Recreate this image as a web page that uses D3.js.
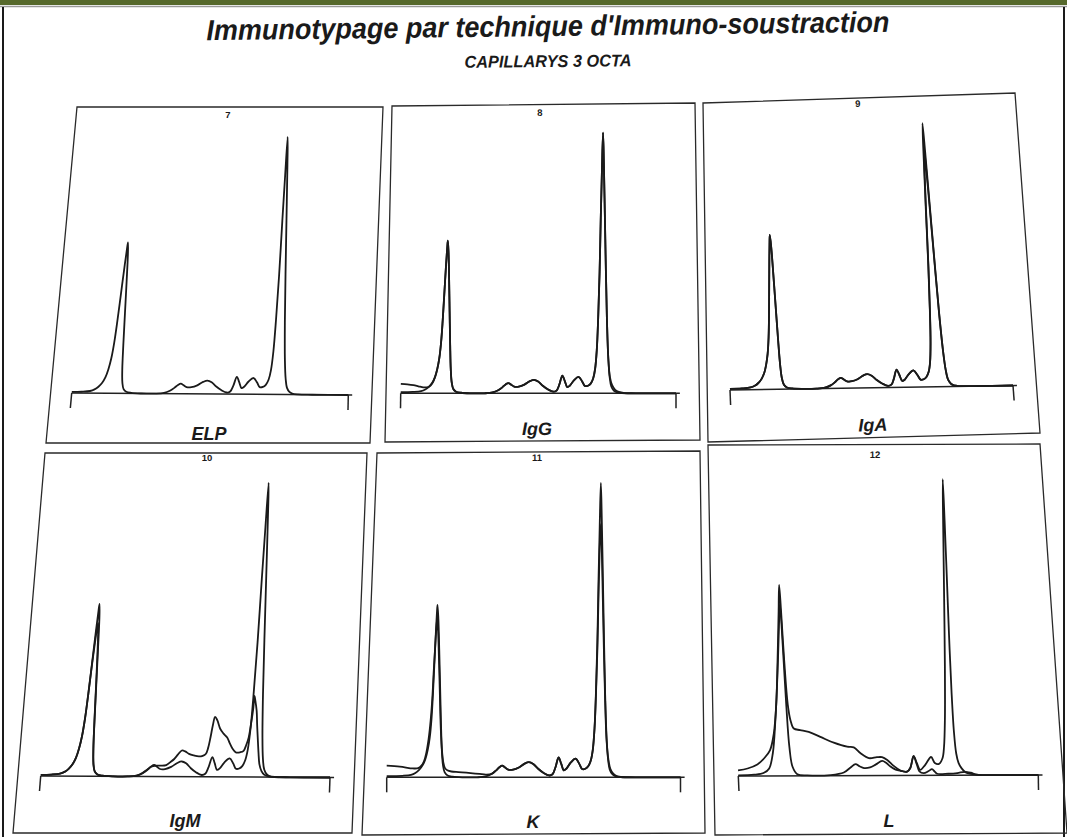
<!DOCTYPE html>
<html>
<head>
<meta charset="utf-8">
<script src="https://cdn.jsdelivr.net/npm/d3@7"></script>
<style>
  html, body { margin: 0; padding: 0; background: #fff; }
  svg { display: block; }
  .frame { fill: none; stroke: #2a2a2a; stroke-width: 1.3; }
  .trace { fill: none; stroke: #1a1a1a; stroke-width: 1.8; stroke-linejoin: round; }
  .axis-line { fill: none; stroke: #222; stroke-width: 1.5; }
  text { font-family: "Liberation Sans", Arial, sans-serif; font-weight: bold; fill: #1a1a1a; }
</style>
</head>
<body>
<div id="container"></div>
<script>
// Page size
const WIDTH = 1067;
const HEIGHT = 837;

// Texts
const TITLE = "Immunotypage par technique d'Immuno-soustraction";
const SUBTITLE = 'CAPILLARYS 3 OCTA';
const PANEL_NAMES = ['ELP', 'IgG', 'IgA', 'IgM', 'K', 'L'];
const PANEL_NUMBERS = ['7', '8', '9', '10', '11', '12'];

// Traces: [migration, relative height]
const ELP = [
  [-1.5,0.4],[4,0.5],[7,0.8],[8.5,1.4],[9.8,2.4],[11,3.9],[12,6],[12.8,9],[13.5,13],[14.1,19],[14.6,27],[15.1,37],
  [15.6,47],[16.0,54],[16.2,56.5],[16.5,52],[16.8,42],[17.1,30],[17.4,18],[17.7,9],[18.1,4],[18.7,1.6],[19.7,0.6],
  [21.5,0.2],[25,0],[30,0],[33,0.3],[35,1.1],[36.5,2.2],[37.7,3.3],[38.7,3.8],[39.7,3.2],[40.8,2.5],[42.5,2.5],
  [44.5,3.2],[46.5,4.5],[48,5.0],[49.5,4.4],[51.2,2.8],[53,1.5],[55,0.6],[56.2,1.0],[57.2,3.2],[58.3,6.5],[59.2,4.5],
  [60.1,2.3],[61,2.8],[62.5,4.8],[64.2,6.1],[65.5,4.4],[66.5,2.7],[67.6,2.8],[68.6,3.6],[69.5,5.5],[70.2,9],[70.8,16],
  [71.3,28],[71.8,45],[72.2,65],[72.6,82],[73.0,96.5],[73.3,86],[73.7,66],[74.1,45],[74.5,27],[75.0,13],[75.5,6],
  [76.1,2.5],[77,1],[78,0.4],[80,0.1],[85,0],[101,0]
];

const IGG = [
  [-1.5,3.5],[2,3.3],[4.2,3.0],[6,2.6],[7.8,2.2],[9,2.2],[10,2.5],[11,3.6],[12,6],[12.8,9],[13.5,13],[14.1,19],
  [14.6,27],[15.1,37],[15.6,47],[16.0,54],[16.2,56.5],[16.5,52],[16.8,42],[17.1,30],[17.4,18],[17.7,9],[18.1,4],
  [18.7,1.6],[19.7,0.6],[21.5,0.2],[25,0],[30,0],[33,0.3],[35,1.1],[36.5,2.2],[37.7,3.3],[38.7,3.8],[39.7,3.2],
  [40.8,2.5],[42.5,2.5],[44.5,3.2],[46.5,4.5],[48,5.0],[49.5,4.4],[51.2,2.8],[53,1.5],[55,0.6],[56.2,1.0],[57.2,3.2],
  [58.3,6.5],[59.2,4.5],[60.1,2.3],[61,2.8],[62.5,4.8],[64.2,6.1],[65.5,4.4],[66.5,2.7],[67.6,2.8],[68.6,3.6],
  [69.5,5.5],[70.2,9],[70.8,16],[71.3,28],[71.8,45],[72.2,65],[72.6,82],[73.0,96.5],[73.3,86],[73.7,66],[74.1,45],
  [74.5,27],[75.0,13],[75.6,6],[76.4,3],[77.5,1.3],[78.8,0.5],[81,0.1],[85,0],[101,0]
];

const IGA = [
  [-1.5,0.4],[4,0.5],[7,0.8],[8.5,1.4],[9.8,2.4],[11,3.9],[12,6],[12.8,9],[13.5,13],[14.1,19],[14.6,27],[15.1,37],
  [15.6,47],[16.0,54],[16.2,56.5],[16.5,52],[16.8,42],[17.1,30],[17.4,18],[17.7,9],[18.1,4],[18.7,1.6],[19.7,0.6],
  [21.5,0.2],[25,0],[30,0],[33,0.3],[35,1.1],[36.5,2.2],[37.7,3.3],[38.7,3.8],[39.7,3.2],[40.8,2.5],[42.5,2.5],
  [44.5,3.2],[46.5,4.5],[48,5.0],[49.5,4.4],[51.2,2.8],[53,1.5],[55,0.6],[56.2,1.0],[57.2,3.2],[58.3,6.5],[59.2,4.5],
  [60.1,2.3],[61,2.8],[62.5,4.8],[64.2,6.1],[65.5,4.4],[66.5,2.7],[67.6,2.8],[68.6,3.6],[69.5,5.5],[70.2,9],[70.8,16],
  [71.3,27],[71.8,44],[72.2,62],[72.6,78],[73.0,87.5],[73.3,79],[73.7,62],[74.1,43],[74.5,26],[75.0,13],[75.5,6],
  [76.1,2.5],[77,1],[78,0.4],[80,0.1],[85,0],[101,0]
];

const IGM = [
  [-1.5,0.4],[4,0.5],[7,0.8],[8.5,1.4],[9.8,2.4],[11,3.9],[12,6],[12.8,9],[13.5,13],[14.1,19],[14.6,27],[15.1,36],
  [15.6,44],[16.0,49],[16.2,50.2],[16.5,46],[16.8,38],[17.1,28],[17.4,17],[17.7,9],[18.1,4],[18.7,1.6],[19.7,0.6],
  [21.5,0.2],[25,0],[30,0],[33,0.3],[35,1.2],[36.5,2.3],[37.7,3.2],[39.3,3.6],[41,3.6],[42.8,3.8],[44.2,4.8],
  [45.4,5.8],[46.6,7.3],[47.8,8.6],[49,8.3],[50.3,7.5],[52,7.0],[53.7,6.7],[55,6.9],[56,7.5],[56.7,9.5],[57.3,12.9],
  [57.9,17],[58.5,19.7],[59.3,18.6],[60.5,15.7],[61.7,14.2],[63.0,12.9],[63.9,11.2],[64.8,9.6],[65.6,8.6],[66.4,8.0],
  [67.6,8.1],[68.8,8.6],[69.6,10.5],[70.3,12.9],[70.9,17.5],[71.4,22.5],[71.6,26.6],[72.0,25],[72.6,21.7],[73.0,17],
  [73.4,12.9],[73.9,8],[74.4,4.2],[75.2,2],[76.1,0.9],[78,0.2],[85,0],[101,0]
];

const KAPPA = [
  [-1.5,3.8],[3.1,3.5],[7.7,2.9],[9.5,3.0],[10.6,3.8],[11.5,5.2],[12.3,8],[13.1,12.5],[13.8,18.5],[14.4,26],[14.9,35],
  [15.4,43],[15.8,49],[16.1,51.9],[16.4,48],[16.7,39],[17.0,28],[17.3,17],[17.7,9.5],[18.2,5],[18.8,3],[19.6,2.3],
  [21,1.9],[23.5,1.7],[26.2,1.5],[28.5,1.3],[30.8,1.1],[33,0.9],[35,1.1],[36.5,2.2],[37.7,3.3],[38.7,3.8],[39.7,3.2],
  [40.8,2.5],[42.5,2.5],[44.5,3.2],[46.5,4.5],[48,5.0],[49.5,4.4],[51.2,2.8],[53,1.5],[55,0.6],[56.2,1.0],[57.2,3.2],
  [58.3,6.5],[59.2,4.5],[60.1,2.3],[61,2.8],[62.5,4.8],[64.2,6.1],[65.5,4.4],[66.5,2.7],[67.6,2.8],[68.6,3.6],
  [69.5,5.5],[70.2,9],[70.8,16],[71.3,27],[71.8,42],[72.2,60],[72.6,75],[73.0,83],[73.3,76],[73.7,58],[74.1,40],
  [74.5,25],[75.0,12],[75.6,6],[76.3,2.8],[77.3,1.2],[78.5,0.4],[80,0.1],[85,0],[101,0]
];

const LAMBDA_A = [
  [0,1.8],[3.2,2.4],[6.5,3.7],[8.8,5.6],[10.9,8.2],[12.4,13.6],[13.6,23],[14.6,37],[15.6,53],[16.1,61.4],[16.4,53],
  [16.8,37],[17.4,23],[18.1,17.9],[19.1,15.2],[21.2,14.7],[24.0,14.1],[27.8,12.5],[32.2,10.6],[36.6,9.3],[38.8,9.1],
  [41.0,7.2],[43.7,5.6],[46.4,5.9],[48.1,5.9],[49.8,5.0],[51.9,3.1],[54.1,1.6],[56.3,1.2],[57.4,2.4],[58.6,6.3],
  [59.6,4.0],[60.7,1.8],[62.4,3.4],[64.4,5.9],[65.6,4.0],[67.0,3.7],[68.2,5.5],[68.8,9.2],[69.3,18],[69.7,35],
  [70.0,60],[70.2,80],[70.4,95.2],[70.7,82],[71.0,64],[71.3,45],[71.7,27],[72.2,14],[72.8,7],[73.5,4],[74.5,2.2],
  [75.7,1],[77.5,0.4],[80,0.1],[85,0],[101,0]
];

const LAMBDA_B = [
  [0,0.2],[5.3,0.4],[8.6,1.0],[10.4,2.4],[11.8,7.2],[13.1,17.9],[14.5,33.9],[15.5,47.9],[16.1,55.4],[16.5,42.5],
  [16.9,23.2],[17.4,9.3],[18.2,2.9],[19.7,0.5],[23,0.1],[30.8,0.2],[35.2,1.0],[37.5,2.6],[39.2,3.7],[40.5,3.0],
  [42,2.4],[44,2.6],[46,3.6],[48.1,4.7],[49.5,4.0],[50.8,2.9],[52.5,1.9],[54.1,1.5],[56.3,1.2],[57.4,2.4],[58.6,6.1],
  [59.6,3.5],[60.4,1.3],[61.8,0.7],[63.5,1.4],[64.6,2.0],[65.5,1.2],[66.3,0.5],[70,0.5],[73,0.7],[75.5,1.1],
  [77.5,0.8],[79.5,0.2],[85,0],[101,0]
];

const TRACES = [[ELP], [ELP, IGG], [ELP, IGA], [ELP, IGM], [ELP, KAPPA], [LAMBDA_A, LAMBDA_B]];

// Layout of the photographed sheet: frame corners, axis ends, px per unit,
// lean of the verticals and x calibration of every panel.
const PANELS = [
  { frame: [[77,107],[383,107],[370,443],[46,443]], base: [[71.7,393],[348.3,395]], unit: 2.67,
    lean: [-0.09,-0.02], domain: [0.6,97.7], label: [209,440], num: [228,118] },
  { frame: [[392,106],[695,103],[700,440],[385,442]], base: [[400.7,393.3],[676,393.3]], unit: 2.70,
    lean: [-0.012,0.003], domain: [-0.4,99.6], label: [537,435], num: [540,116] },
  { frame: [[703,103],[1015,93],[1040,433],[708,442]], base: [[730,390],[1013,385.5]], unit: 2.73,
    lean: [0.041,0.074], domain: [-0.2,98.6], label: [873,431], num: [858,107] },
  { frame: [[45,453],[367,453],[352,833],[13,833]], base: [[40.7,776],[330,777.5]], unit: 3.05,
    lean: [-0.08,-0.036], domain: [0.53,98.5], label: [185,827], num: [207,461] },
  { frame: [[377,453],[700,451],[705,833],[362,835]], base: [[386.7,777.3],[680.5,777.3]], unit: 3.05,
    lean: [0,0], domain: [-1.47,100.7], label: [533,828], num: [537,461] },
  { frame: [[708,445],[1040,444],[1067,833],[715,835]], base: [[738.3,776],[1038.3,775]], unit: 3.11,
    lean: [0.044,0.014], domain: [0,100], label: [889,827], num: [875,458] }
];

const svg = d3.select('#container')
              .append('svg')
                .attr('width', WIDTH)
                .attr('height', HEIGHT);

// Sheet edges
svg.append('rect')
   .attr('x', 0).attr('y', 0)
   .attr('width', WIDTH).attr('height', 5)
   .attr('fill', '#56692c');
svg.append('line')
   .attr('x1', 0).attr('x2', WIDTH)
   .attr('y1', 6.5).attr('y2', 6.5)
   .attr('stroke', '#9a9a9a').attr('stroke-width', 1.5);
svg.selectAll('line.edge')
   .data([3, 1064])
   .enter()
   .append('line')
     .attr('class', 'edge')
     .attr('x1', d => d).attr('x2', d => d)
     .attr('y1', 7).attr('y2', HEIGHT)
     .attr('stroke', '#1a1a1a').attr('stroke-width', 2);

// Title block
svg.append('text')
   .attr('transform', 'translate(548,36) rotate(-0.7)')
   .attr('text-anchor', 'middle')
   .attr('font-size', 29)
   .attr('font-style', 'italic')
   .attr('textLength', 683)
   .attr('lengthAdjust', 'spacingAndGlyphs')
   .text(TITLE);

svg.append('text')
   .attr('transform', 'translate(548,67) rotate(-0.5)')
   .attr('text-anchor', 'middle')
   .attr('font-size', 17)
   .attr('font-style', 'italic')
   .attr('textLength', 167)
   .attr('lengthAdjust', 'spacingAndGlyphs')
   .text(SUBTITLE);

const angle = (a, b) => Math.atan2(b[1] - a[1], b[0] - a[0]) * 180 / Math.PI;

PANELS.forEach((p, i) => {
  const g = svg.append('g').attr('class', 'panel');

  const x = d3.scaleLinear().domain(p.domain).range([0, 1]).clamp(true);
  const y = d3.scaleLinear().domain([0, 100]).range([0, p.unit * 100]);

  // t along the axis, h in px above it -> page position
  const project = (t, h) => {
    const bx = p.base[0][0] + t * (p.base[1][0] - p.base[0][0]);
    const by = p.base[0][1] + t * (p.base[1][1] - p.base[0][1]);
    const lean = p.lean[0] + t * (p.lean[1] - p.lean[0]);
    return [bx - lean * h, by - h];
  };

  g.append('path')
   .attr('class', 'frame')
   .attr('d', d3.line().curve(d3.curveLinearClosed)(p.frame));

  // Axis: baseline and the two end ticks
  const axisLine = d3.line().x(d => project(d[0], d[1])[0]).y(d => project(d[0], d[1])[1]);
  g.append('path')
   .attr('class', 'axis-line')
   .attr('d', axisLine([[0, 0], [1.014, 0]]));
  g.selectAll('path.tick')
   .data(x.range())
   .enter()
   .append('path')
     .attr('class', 'tick axis-line')
     .attr('stroke-width', 1.1)
     .attr('d', t => axisLine([[t, 0], [t, -15]]));

  const line = d3.line()
                 .x(d => project(x(d[0]), y(d[1]))[0])
                 .y(d => project(x(d[0]), y(d[1]))[1])
                 .curve(d3.curveCatmullRom.alpha(0.5));

  g.selectAll('path.trace')
   .data(TRACES[i])
   .enter()
   .append('path')
     .attr('class', 'trace')
     .attr('d', line);

  g.append('text')
   .attr('transform', `translate(${p.label[0]},${p.label[1]}) rotate(${angle(p.frame[3], p.frame[2])})`)
   .attr('text-anchor', 'middle')
   .attr('font-size', 18)
   .attr('font-style', 'italic')
   .text(PANEL_NAMES[i]);

  g.append('text')
   .attr('transform', `translate(${p.num[0]},${p.num[1]}) rotate(${angle(p.frame[0], p.frame[1])})`)
   .attr('text-anchor', 'middle')
   .attr('font-size', 9.5)
   .text(PANEL_NUMBERS[i]);
});
</script>
</body>
</html>
